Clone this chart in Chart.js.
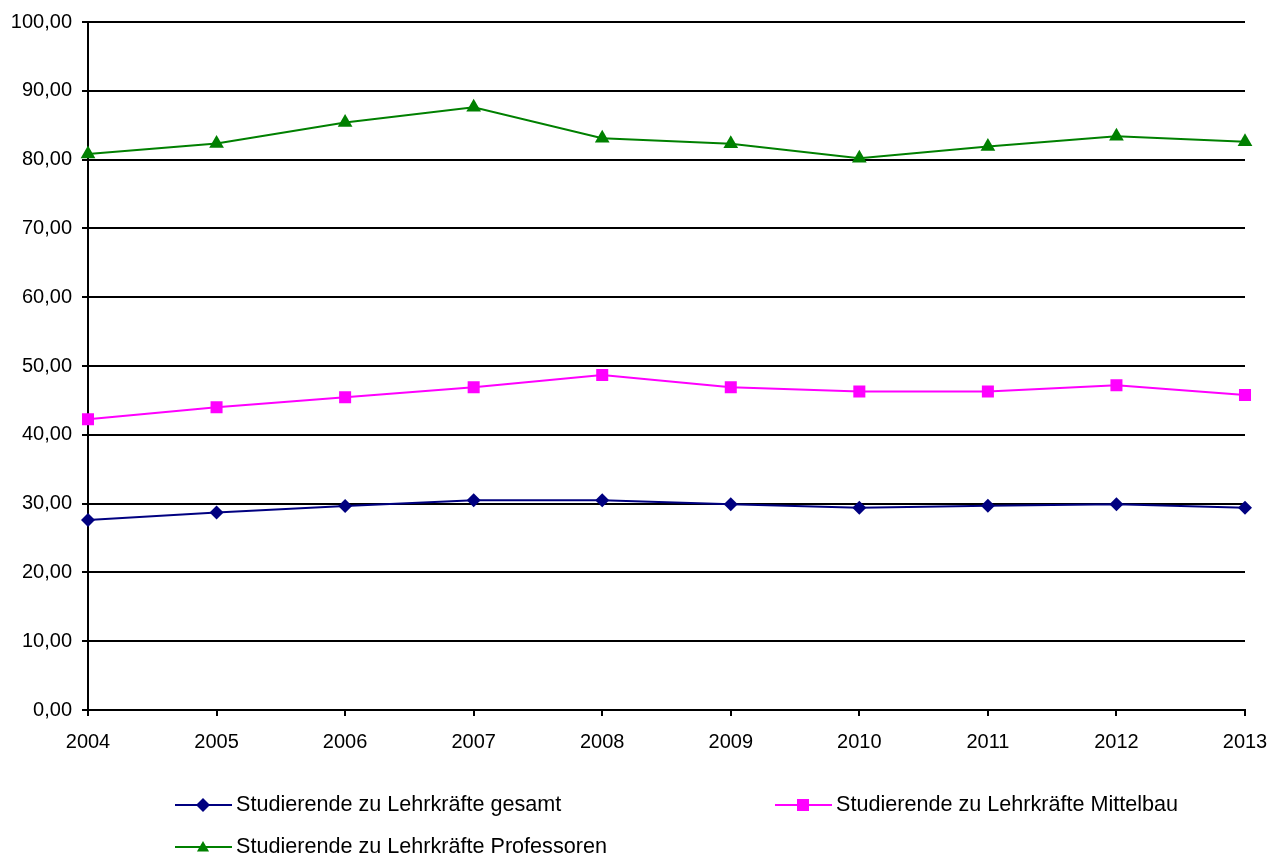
<!DOCTYPE html>
<html><head><meta charset="utf-8">
<script src="https://cdn.jsdelivr.net/npm/chart.js@4/dist/chart.umd.min.js"></script>
<style>html,body{margin:0;padding:0;background:#fff;}#wrap{width:1271px;height:857px;}</style>
</head><body><div id="wrap"><canvas id="c" width="1271" height="857"></canvas></div>
<script>
const years = ['2004','2005','2006','2007','2008','2009','2010','2011','2012','2013'];
const gesamt = [27.6, 28.7, 29.65, 30.5, 30.5, 29.9, 29.4, 29.7, 29.9, 29.4];
const mittelbau = [42.25, 44.0, 45.45, 46.9, 48.7, 46.9, 46.3, 46.3, 47.2, 45.8];
const professoren = [80.8, 82.35, 85.4, 87.6, 83.1, 82.3, 80.2, 81.9, 83.4, 82.6];
const seriesLabels = ['Studierende zu Lehrkräfte gesamt','Studierende zu Lehrkräfte Mittelbau','Studierende zu Lehrkräfte Professoren'];
const seriesColors = ['#000080','#FF00FF','#008000'];
const seriesMarkers = ['rectRot','rect','triangle'];

Chart.defaults.font.family = "'Liberation Sans', Arial, sans-serif";
Chart.defaults.font.size = 20;
Chart.defaults.color = '#000';

function drawMarker(ctx, style, x, y, r) {
  ctx.beginPath();
  if (style === 'rectRot') {
    ctx.moveTo(x, y - r); ctx.lineTo(x + r, y); ctx.lineTo(x, y + r); ctx.lineTo(x - r, y);
  } else if (style === 'rect') {
    const s = r * Math.SQRT1_2; ctx.rect(x - s, y - s, 2 * s, 2 * s);
  } else {
    ctx.moveTo(x, y - r); ctx.lineTo(x + r * 0.866, y + r * 0.5); ctx.lineTo(x - r * 0.866, y + r * 0.5);
  }
  ctx.closePath(); ctx.fill();
}

const legendSlots = [{x:175,y:805},{x:775,y:805},{x:175,y:847}];
const legendPlugin = {
  id: 'customLegend',
  afterDraw(chart) {
    const ctx = chart.ctx;
    ctx.save();
    chart.data.datasets.forEach((ds, i) => {
      const p = legendSlots[i];
      ctx.strokeStyle = ds.borderColor; ctx.lineWidth = 2;
      ctx.beginPath(); ctx.moveTo(p.x, p.y); ctx.lineTo(p.x + 57, p.y); ctx.stroke();
      ctx.fillStyle = ds.backgroundColor;
      drawMarker(ctx, ds.pointStyle, p.x + 28, p.y + (ds.pointStyle === 'triangle' ? 1 : 0), ds.pointStyle === 'rect' ? 8.5 : 7);
      ctx.fillStyle = '#000';
      ctx.font = "21.6px 'Liberation Sans', Arial, sans-serif";
      ctx.textBaseline = 'middle'; ctx.textAlign = 'left';
      ctx.fillText(ds.label, p.x + 61, p.y);
    });
    ctx.restore();
  }
};

const series = [gesamt, mittelbau, professoren];
new Chart(document.getElementById('c'), {
  type: 'line',
  data: {
    labels: years,
    datasets: series.map((d, i) => ({
      label: seriesLabels[i],
      data: d,
      borderColor: seriesColors[i],
      backgroundColor: seriesColors[i],
      borderWidth: 2,
      pointStyle: seriesMarkers[i],
      pointRadius: i === 1 ? 8.5 : (i === 0 ? 7 : 8.5),
      pointBorderWidth: 0,
      tension: 0
    }))
  },
  options: {
    responsive: false,
    animation: false,
    devicePixelRatio: 1,
    layout: { padding: { top: 22, right: 26, left: 0, bottom: 0 } },
    plugins: { legend: { display: false }, tooltip: { enabled: false } },
    scales: {
      x: {
        type: 'category',
        offset: false,
        grid: { drawOnChartArea: false, drawTicks: true, tickLength: 6, color: '#000', lineWidth: 2 },
        border: { display: true, color: '#000', width: 2 },
        ticks: { padding: 14, maxRotation: 0, autoSkip: false },
        afterFit(s) { s.height = 147; s.paddingRight = 0; s.paddingLeft = 0; }
      },
      y: {
        min: 0, max: 100,
        grid: { color: '#000', lineWidth: 2, tickLength: 6, drawTicks: true },
        border: { display: true, color: '#000', width: 2 },
        ticks: { stepSize: 10, padding: 10, callback: v => v.toFixed(2).replace('.', ',') },
        afterFit(s) { s.width = 88; }
      }
    }
  },
  plugins: [legendPlugin]
});
</script></body></html>
